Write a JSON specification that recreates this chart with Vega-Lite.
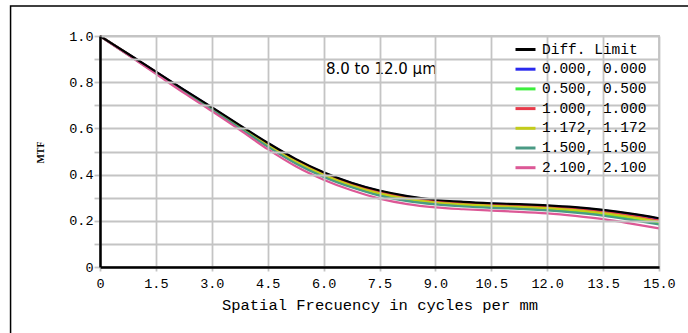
{
  "$schema": "https://vega.github.io/schema/vega-lite/v6.json",
  "width": 559,
  "height": 231,
  "autosize": "none",
  "padding": {"left": 100, "top": 36, "right": 29, "bottom": 66},
  "background": "white",
  "config": {
    "view": {"stroke": "#c4c4c4", "strokeWidth": 1.8, "fill": "transparent"},
    "axis": {"labelFont": "Liberation Mono", "labelColor": "#000", "titleFont": "Liberation Mono", "titleColor": "#000"}
  },
  "data": {"values": [
    {"f":0,"v":1.0,"s":"Diff. Limit"},{"f":0.75,"v":0.923,"s":"Diff. Limit"},{"f":1.5,"v":0.846,"s":"Diff. Limit"},{"f":2.25,"v":0.768,"s":"Diff. Limit"},{"f":3,"v":0.692,"s":"Diff. Limit"},{"f":3.75,"v":0.614,"s":"Diff. Limit"},{"f":4.5,"v":0.538,"s":"Diff. Limit"},{"f":5.25,"v":0.468,"s":"Diff. Limit"},{"f":6,"v":0.410,"s":"Diff. Limit"},{"f":6.75,"v":0.365,"s":"Diff. Limit"},{"f":7.5,"v":0.331,"s":"Diff. Limit"},{"f":8.25,"v":0.307,"s":"Diff. Limit"},{"f":9,"v":0.291,"s":"Diff. Limit"},{"f":9.75,"v":0.282,"s":"Diff. Limit"},{"f":10.5,"v":0.276,"s":"Diff. Limit"},{"f":11.25,"v":0.272,"s":"Diff. Limit"},{"f":12,"v":0.267,"s":"Diff. Limit"},{"f":12.75,"v":0.259,"s":"Diff. Limit"},{"f":13.5,"v":0.247,"s":"Diff. Limit"},{"f":14.25,"v":0.231,"s":"Diff. Limit"},{"f":15,"v":0.211,"s":"Diff. Limit"},
    {"f":0,"v":1.0,"s":"0.000, 0.000"},{"f":0.75,"v":0.922,"s":"0.000, 0.000"},{"f":1.5,"v":0.845,"s":"0.000, 0.000"},{"f":2.25,"v":0.767,"s":"0.000, 0.000"},{"f":3,"v":0.690,"s":"0.000, 0.000"},{"f":3.75,"v":0.612,"s":"0.000, 0.000"},{"f":4.5,"v":0.536,"s":"0.000, 0.000"},{"f":5.25,"v":0.466,"s":"0.000, 0.000"},{"f":6,"v":0.408,"s":"0.000, 0.000"},{"f":6.75,"v":0.363,"s":"0.000, 0.000"},{"f":7.5,"v":0.329,"s":"0.000, 0.000"},{"f":8.25,"v":0.305,"s":"0.000, 0.000"},{"f":9,"v":0.289,"s":"0.000, 0.000"},{"f":9.75,"v":0.280,"s":"0.000, 0.000"},{"f":10.5,"v":0.274,"s":"0.000, 0.000"},{"f":11.25,"v":0.270,"s":"0.000, 0.000"},{"f":12,"v":0.265,"s":"0.000, 0.000"},{"f":12.75,"v":0.257,"s":"0.000, 0.000"},{"f":13.5,"v":0.245,"s":"0.000, 0.000"},{"f":14.25,"v":0.229,"s":"0.000, 0.000"},{"f":15,"v":0.209,"s":"0.000, 0.000"},
    {"f":0,"v":1.0,"s":"0.500, 0.500"},{"f":0.75,"v":0.920,"s":"0.500, 0.500"},{"f":1.5,"v":0.841,"s":"0.500, 0.500"},{"f":2.25,"v":0.761,"s":"0.500, 0.500"},{"f":3,"v":0.683,"s":"0.500, 0.500"},{"f":3.75,"v":0.604,"s":"0.500, 0.500"},{"f":4.5,"v":0.524,"s":"0.500, 0.500"},{"f":5.25,"v":0.452,"s":"0.500, 0.500"},{"f":6,"v":0.394,"s":"0.500, 0.500"},{"f":6.75,"v":0.348,"s":"0.500, 0.500"},{"f":7.5,"v":0.313,"s":"0.500, 0.500"},{"f":8.25,"v":0.289,"s":"0.500, 0.500"},{"f":9,"v":0.274,"s":"0.500, 0.500"},{"f":9.75,"v":0.266,"s":"0.500, 0.500"},{"f":10.5,"v":0.260,"s":"0.500, 0.500"},{"f":11.25,"v":0.255,"s":"0.500, 0.500"},{"f":12,"v":0.249,"s":"0.500, 0.500"},{"f":12.75,"v":0.240,"s":"0.500, 0.500"},{"f":13.5,"v":0.227,"s":"0.500, 0.500"},{"f":14.25,"v":0.209,"s":"0.500, 0.500"},{"f":15,"v":0.189,"s":"0.500, 0.500"},
    {"f":0,"v":1.0,"s":"1.000, 1.000"},{"f":0.75,"v":0.922,"s":"1.000, 1.000"},{"f":1.5,"v":0.844,"s":"1.000, 1.000"},{"f":2.25,"v":0.765,"s":"1.000, 1.000"},{"f":3,"v":0.689,"s":"1.000, 1.000"},{"f":3.75,"v":0.610,"s":"1.000, 1.000"},{"f":4.5,"v":0.532,"s":"1.000, 1.000"},{"f":5.25,"v":0.462,"s":"1.000, 1.000"},{"f":6,"v":0.404,"s":"1.000, 1.000"},{"f":6.75,"v":0.358,"s":"1.000, 1.000"},{"f":7.5,"v":0.324,"s":"1.000, 1.000"},{"f":8.25,"v":0.300,"s":"1.000, 1.000"},{"f":9,"v":0.284,"s":"1.000, 1.000"},{"f":9.75,"v":0.276,"s":"1.000, 1.000"},{"f":10.5,"v":0.270,"s":"1.000, 1.000"},{"f":11.25,"v":0.265,"s":"1.000, 1.000"},{"f":12,"v":0.260,"s":"1.000, 1.000"},{"f":12.75,"v":0.251,"s":"1.000, 1.000"},{"f":13.5,"v":0.239,"s":"1.000, 1.000"},{"f":14.25,"v":0.222,"s":"1.000, 1.000"},{"f":15,"v":0.202,"s":"1.000, 1.000"},
    {"f":0,"v":1.0,"s":"1.172, 1.172"},{"f":0.75,"v":0.921,"s":"1.172, 1.172"},{"f":1.5,"v":0.842,"s":"1.172, 1.172"},{"f":2.25,"v":0.763,"s":"1.172, 1.172"},{"f":3,"v":0.686,"s":"1.172, 1.172"},{"f":3.75,"v":0.607,"s":"1.172, 1.172"},{"f":4.5,"v":0.528,"s":"1.172, 1.172"},{"f":5.25,"v":0.457,"s":"1.172, 1.172"},{"f":6,"v":0.399,"s":"1.172, 1.172"},{"f":6.75,"v":0.353,"s":"1.172, 1.172"},{"f":7.5,"v":0.319,"s":"1.172, 1.172"},{"f":8.25,"v":0.295,"s":"1.172, 1.172"},{"f":9,"v":0.279,"s":"1.172, 1.172"},{"f":9.75,"v":0.271,"s":"1.172, 1.172"},{"f":10.5,"v":0.265,"s":"1.172, 1.172"},{"f":11.25,"v":0.260,"s":"1.172, 1.172"},{"f":12,"v":0.255,"s":"1.172, 1.172"},{"f":12.75,"v":0.246,"s":"1.172, 1.172"},{"f":13.5,"v":0.233,"s":"1.172, 1.172"},{"f":14.25,"v":0.216,"s":"1.172, 1.172"},{"f":15,"v":0.196,"s":"1.172, 1.172"},
    {"f":0,"v":1.0,"s":"1.500, 1.500"},{"f":0.75,"v":0.920,"s":"1.500, 1.500"},{"f":1.5,"v":0.840,"s":"1.500, 1.500"},{"f":2.25,"v":0.759,"s":"1.500, 1.500"},{"f":3,"v":0.681,"s":"1.500, 1.500"},{"f":3.75,"v":0.602,"s":"1.500, 1.500"},{"f":4.5,"v":0.521,"s":"1.500, 1.500"},{"f":5.25,"v":0.448,"s":"1.500, 1.500"},{"f":6,"v":0.390,"s":"1.500, 1.500"},{"f":6.75,"v":0.345,"s":"1.500, 1.500"},{"f":7.5,"v":0.309,"s":"1.500, 1.500"},{"f":8.25,"v":0.285,"s":"1.500, 1.500"},{"f":9,"v":0.271,"s":"1.500, 1.500"},{"f":9.75,"v":0.262,"s":"1.500, 1.500"},{"f":10.5,"v":0.256,"s":"1.500, 1.500"},{"f":11.25,"v":0.252,"s":"1.500, 1.500"},{"f":12,"v":0.245,"s":"1.500, 1.500"},{"f":12.75,"v":0.235,"s":"1.500, 1.500"},{"f":13.5,"v":0.222,"s":"1.500, 1.500"},{"f":14.25,"v":0.204,"s":"1.500, 1.500"},{"f":15,"v":0.184,"s":"1.500, 1.500"},
    {"f":0,"v":1.0,"s":"2.100, 2.100"},{"f":0.75,"v":0.918,"s":"2.100, 2.100"},{"f":1.5,"v":0.836,"s":"2.100, 2.100"},{"f":2.25,"v":0.754,"s":"2.100, 2.100"},{"f":3,"v":0.675,"s":"2.100, 2.100"},{"f":3.75,"v":0.594,"s":"2.100, 2.100"},{"f":4.5,"v":0.510,"s":"2.100, 2.100"},{"f":5.25,"v":0.436,"s":"2.100, 2.100"},{"f":6,"v":0.378,"s":"2.100, 2.100"},{"f":6.75,"v":0.332,"s":"2.100, 2.100"},{"f":7.5,"v":0.296,"s":"2.100, 2.100"},{"f":8.25,"v":0.272,"s":"2.100, 2.100"},{"f":9,"v":0.258,"s":"2.100, 2.100"},{"f":9.75,"v":0.250,"s":"2.100, 2.100"},{"f":10.5,"v":0.244,"s":"2.100, 2.100"},{"f":11.25,"v":0.239,"s":"2.100, 2.100"},{"f":12,"v":0.232,"s":"2.100, 2.100"},{"f":12.75,"v":0.221,"s":"2.100, 2.100"},{"f":13.5,"v":0.207,"s":"2.100, 2.100"},{"f":14.25,"v":0.188,"s":"2.100, 2.100"},{"f":15,"v":0.167,"s":"2.100, 2.100"}
  ]},
  "layer": [
    {
      "data": {"values": [{"k": "frame"}]},
      "mark": {"type": "rect", "filled": false, "fill": "transparent", "stroke": "#000", "strokeWidth": 1.5, "clip": false},
      "encoding": {
        "x": {"datum": -2.4, "type": "quantitative", "scale": {"domain": [0, 15], "nice": false, "zero": false},
          "axis": {"title": "Spatial Frecuency in cycles per mm", "titleFontSize": 15.5, "titleFontWeight": "normal", "titleBaseline": "middle", "titleY": 37,
            "values": [0, 1.5, 3, 4.5, 6, 7.5, 9, 10.5, 12, 13.5, 15],
            "labelExpr": "datum.value == 0 ? '0' : format(datum.value, '.1f')", "labelFontSize": 13.5, "labelPadding": 5, "labelFlush": false,
            "grid": true, "gridColor": "#c4c4c4", "gridWidth": 1.8, "zindex": 1,
            "domainColor": "#000", "domainWidth": 2.5, "tickColor": "#c4c4c4", "tickSize": 4, "tickWidth": 1.8}},
        "x2": {"datum": 17.5},
        "y": {"datum": 1.13, "type": "quantitative", "scale": {"domain": [0, 1], "nice": false},
          "axis": {"title": "MTF", "titleFont": "Liberation Serif", "titleFontSize": 10, "titleFontWeight": "bold", "titleX": -60, "titleY": 116, "titleAngle": -90, "titleBaseline": "middle", "titleAlign": "center",
            "values": [0, 0.1, 0.2, 0.3, 0.4, 0.5, 0.6, 0.7, 0.8, 0.9, 1.0],
            "labelExpr": "round(datum.value * 10) % 2 == 0 ? (datum.value == 0 ? '0' : format(datum.value, '.1f')) : ''", "labelFontSize": 13.5, "labelPadding": 1, "labelFlush": false,
            "grid": true, "gridColor": "#c4c4c4", "gridWidth": 1.8, "zindex": 1,
            "domainColor": "#000", "domainWidth": 2.5, "tickColor": "#c4c4c4", "tickSize": 6, "tickWidth": 1.8}},
        "y2": {"datum": -0.4}
      }
    },
    {
      "transform": [{"filter": "datum.s != 'Diff. Limit'"}],
      "mark": {"type": "line", "strokeWidth": 2.2, "interpolate": "monotone", "zindex": 2},
      "encoding": {
        "x": {"field": "f", "type": "quantitative", "scale": {"domain": [0, 15], "nice": false, "zero": false},
          "axis": {"title": "Spatial Frecuency in cycles per mm", "titleFontSize": 15.5, "titleFontWeight": "normal", "titleBaseline": "middle", "titleY": 37,
            "values": [0, 1.5, 3, 4.5, 6, 7.5, 9, 10.5, 12, 13.5, 15],
            "labelExpr": "datum.value == 0 ? '0' : format(datum.value, '.1f')", "labelFontSize": 13.5, "labelPadding": 5, "labelFlush": false,
            "grid": true, "gridColor": "#c4c4c4", "gridWidth": 1.8, "zindex": 1,
            "domainColor": "#000", "domainWidth": 2.5, "tickColor": "#c4c4c4", "tickSize": 4, "tickWidth": 1.8}},
        "y": {"field": "v", "type": "quantitative", "scale": {"domain": [0, 1], "nice": false},
          "axis": {"title": "MTF", "titleFont": "Liberation Serif", "titleFontSize": 10, "titleFontWeight": "bold", "titleX": -60, "titleY": 116, "titleAngle": -90, "titleBaseline": "middle", "titleAlign": "center",
            "values": [0, 0.1, 0.2, 0.3, 0.4, 0.5, 0.6, 0.7, 0.8, 0.9, 1.0],
            "labelExpr": "round(datum.value * 10) % 2 == 0 ? (datum.value == 0 ? '0' : format(datum.value, '.1f')) : ''", "labelFontSize": 13.5, "labelPadding": 1, "labelFlush": false,
            "grid": true, "gridColor": "#c4c4c4", "gridWidth": 1.8, "zindex": 1,
            "domainColor": "#000", "domainWidth": 2.5, "tickColor": "#c4c4c4", "tickSize": 6, "tickWidth": 1.8}},
        "color": {"field": "s", "type": "nominal",
          "scale": {"domain": ["Diff. Limit", "0.000, 0.000", "0.500, 0.500", "1.000, 1.000", "1.172, 1.172", "1.500, 1.500", "2.100, 2.100"],
                    "range": ["#000000", "#2a2aee", "#3cee3c", "#e83a4a", "#c3cc1a", "#4a9a84", "#dc5896"]},
          "legend": {"title": null, "orient": "none", "legendX": 414, "legendY": 2, "padding": 0, "symbolType": "stroke", "symbolSize": 400, "symbolStrokeWidth": 3, "zindex": 3,
            "labelFont": "Liberation Mono", "labelFontSize": 14.5, "labelColor": "#000", "labelOffset": 5, "rowPadding": 1.7, "labelLimit": 300}}
      }
    },
    {
      "transform": [{"filter": "datum.s == 'Diff. Limit'"}],
      "mark": {"type": "line", "strokeWidth": 2.2, "interpolate": "monotone", "zindex": 2},
      "encoding": {
        "x": {"field": "f", "type": "quantitative", "scale": {"domain": [0, 15], "nice": false, "zero": false},
          "axis": {"title": "Spatial Frecuency in cycles per mm", "titleFontSize": 15.5, "titleFontWeight": "normal", "titleBaseline": "middle", "titleY": 37,
            "values": [0, 1.5, 3, 4.5, 6, 7.5, 9, 10.5, 12, 13.5, 15],
            "labelExpr": "datum.value == 0 ? '0' : format(datum.value, '.1f')", "labelFontSize": 13.5, "labelPadding": 5, "labelFlush": false,
            "grid": true, "gridColor": "#c4c4c4", "gridWidth": 1.8, "zindex": 1,
            "domainColor": "#000", "domainWidth": 2.5, "tickColor": "#c4c4c4", "tickSize": 4, "tickWidth": 1.8}},
        "y": {"field": "v", "type": "quantitative", "scale": {"domain": [0, 1], "nice": false},
          "axis": {"title": "MTF", "titleFont": "Liberation Serif", "titleFontSize": 10, "titleFontWeight": "bold", "titleX": -60, "titleY": 116, "titleAngle": -90, "titleBaseline": "middle", "titleAlign": "center",
            "values": [0, 0.1, 0.2, 0.3, 0.4, 0.5, 0.6, 0.7, 0.8, 0.9, 1.0],
            "labelExpr": "round(datum.value * 10) % 2 == 0 ? (datum.value == 0 ? '0' : format(datum.value, '.1f')) : ''", "labelFontSize": 13.5, "labelPadding": 1, "labelFlush": false,
            "grid": true, "gridColor": "#c4c4c4", "gridWidth": 1.8, "zindex": 1,
            "domainColor": "#000", "domainWidth": 2.5, "tickColor": "#c4c4c4", "tickSize": 6, "tickWidth": 1.8}},
        "color": {"field": "s", "type": "nominal",
          "scale": {"domain": ["Diff. Limit", "0.000, 0.000", "0.500, 0.500", "1.000, 1.000", "1.172, 1.172", "1.500, 1.500", "2.100, 2.100"],
                    "range": ["#000000", "#2a2aee", "#3cee3c", "#e83a4a", "#c3cc1a", "#4a9a84", "#dc5896"]},
          "legend": {"title": null, "orient": "none", "legendX": 414, "legendY": 2, "padding": 0, "symbolType": "stroke", "symbolSize": 400, "symbolStrokeWidth": 3, "zindex": 3,
            "labelFont": "Liberation Mono", "labelFontSize": 14.5, "labelColor": "#000", "labelOffset": 5, "rowPadding": 1.7, "labelLimit": 300}}
      }
    },
    {
      "data": {"values": [{"t": "8.0 to 12.0 µm"}]},
      "mark": {"type": "text", "font": "DejaVu Sans", "fontSize": 15, "color": "#000", "align": "center", "baseline": "middle", "zindex": 2},
      "encoding": {
        "text": {"field": "t"},
        "x": {"datum": 7.55, "type": "quantitative", "scale": {"domain": [0, 15], "nice": false, "zero": false},
          "axis": {"title": "Spatial Frecuency in cycles per mm", "titleFontSize": 15.5, "titleFontWeight": "normal", "titleBaseline": "middle", "titleY": 37,
            "values": [0, 1.5, 3, 4.5, 6, 7.5, 9, 10.5, 12, 13.5, 15],
            "labelExpr": "datum.value == 0 ? '0' : format(datum.value, '.1f')", "labelFontSize": 13.5, "labelPadding": 5, "labelFlush": false,
            "grid": true, "gridColor": "#c4c4c4", "gridWidth": 1.8, "zindex": 1,
            "domainColor": "#000", "domainWidth": 2.5, "tickColor": "#c4c4c4", "tickSize": 4, "tickWidth": 1.8}},
        "y": {"datum": 0.856, "type": "quantitative", "scale": {"domain": [0, 1], "nice": false},
          "axis": {"title": "MTF", "titleFont": "Liberation Serif", "titleFontSize": 10, "titleFontWeight": "bold", "titleX": -60, "titleY": 116, "titleAngle": -90, "titleBaseline": "middle", "titleAlign": "center",
            "values": [0, 0.1, 0.2, 0.3, 0.4, 0.5, 0.6, 0.7, 0.8, 0.9, 1.0],
            "labelExpr": "round(datum.value * 10) % 2 == 0 ? (datum.value == 0 ? '0' : format(datum.value, '.1f')) : ''", "labelFontSize": 13.5, "labelPadding": 1, "labelFlush": false,
            "grid": true, "gridColor": "#c4c4c4", "gridWidth": 1.8, "zindex": 1,
            "domainColor": "#000", "domainWidth": 2.5, "tickColor": "#c4c4c4", "tickSize": 6, "tickWidth": 1.8}}
      }
    }
  ]
}
